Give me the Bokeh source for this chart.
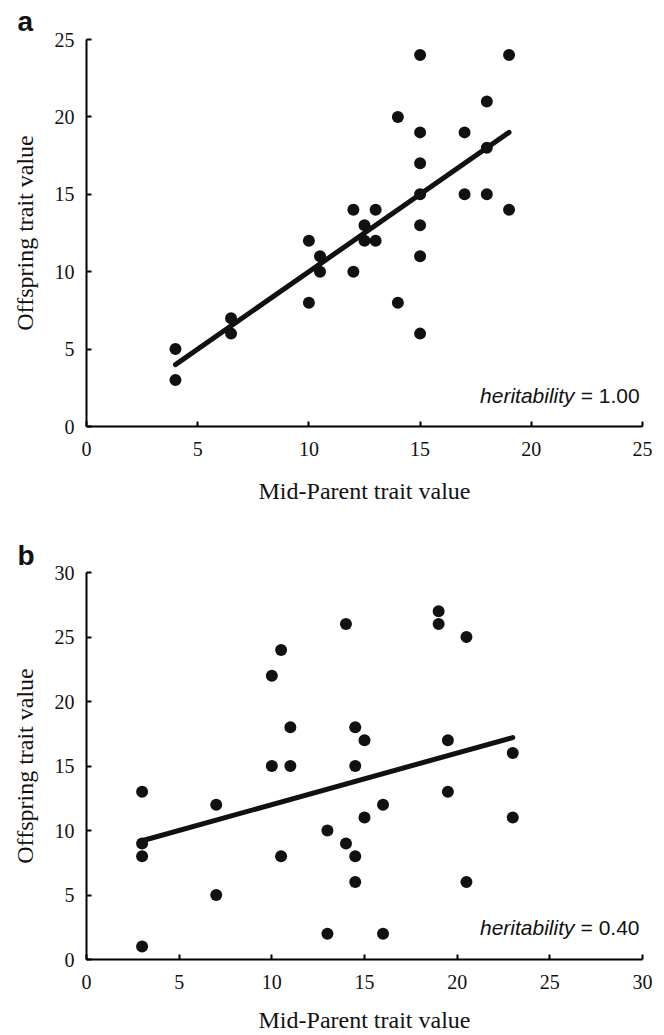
from bokeh.plotting import figure
from bokeh.layouts import column
from bokeh.models import Range1d, FixedTicker, Label
from bokeh.embed import file_html
from bokeh.resources import INLINE
import numpy as np

# Panel a data
a_mid = [4, 4, 6.5, 6.5, 10, 10, 10.5, 10.5, 12, 12, 12.5, 12.5, 13, 13, 14, 14,
         15, 15, 15, 15, 15, 15, 15, 17, 17, 18, 18, 18, 19, 19]
a_off = [5, 3, 7, 6, 12, 8, 11, 10, 14, 10, 13, 12, 14, 12, 20, 8,
         24, 19, 17, 15, 13, 11, 6, 19, 15, 21, 18, 15, 24, 14]
a_heritability = 1.00
a_ticks = [0, 5, 10, 15, 20, 25]

# Panel b data
b_mid = [3, 3, 3, 3, 7, 7, 10, 10, 10.5, 10.5, 11, 11, 13, 13, 14, 14,
         14.5, 14.5, 14.5, 14.5, 15, 15, 16, 16, 19, 19, 19.5, 19.5, 20.5, 20.5, 23, 23]
b_off = [13, 9, 8, 1, 12, 5, 22, 15, 24, 8, 18, 15, 10, 2, 26, 9,
         18, 15, 8, 6, 17, 11, 12, 2, 27, 26, 17, 13, 25, 6, 16, 11]
b_heritability = 0.40
b_ticks = [0, 5, 10, 15, 20, 25, 30]

SERIF = "Liberation Serif"
SANS = "Liberation Sans"


def make_panel(letter, xs, ys, h2, ticks, height, top, bottom, letter_standoff,
               her_xy, title_standoff):
    lim = ticks[-1]
    p = figure(width=664, height=height, x_range=Range1d(0, lim), y_range=Range1d(0, lim),
               output_backend="svg", toolbar_location=None,
               min_border_left=86, min_border_right=22,
               min_border_top=top, min_border_bottom=bottom)
    p.xgrid.visible = False
    p.ygrid.visible = False
    p.outline_line_color = None
    p.background_fill_color = "white"
    p.border_fill_color = "white"

    p.title.text = letter
    p.title.text_font = SANS
    p.title.text_font_style = "bold"
    p.title.text_font_size = "28px"
    p.title.text_color = "#111111"
    p.title.align = "left"
    p.title.offset = -69
    p.title.standoff = letter_standoff

    p.xaxis.ticker = FixedTicker(ticks=ticks)
    p.yaxis.ticker = FixedTicker(ticks=ticks)
    p.axis.axis_line_width = 2
    p.axis.axis_line_color = "black"
    p.axis.major_tick_in = 5
    p.axis.major_tick_out = 0
    p.axis.major_tick_line_width = 2
    p.axis.major_tick_line_color = "black"
    p.axis.minor_tick_line_color = None
    p.axis.major_label_text_font = SERIF
    p.axis.major_label_text_font_style = "normal"
    p.axis.major_label_text_font_size = "20px"
    p.axis.major_label_text_color = "#111111"
    p.axis.axis_label_text_font = SERIF
    p.axis.axis_label_text_font_size = "24px"
    p.axis.axis_label_text_font_style = "normal"
    p.axis.axis_label_text_color = "#111111"
    p.xaxis.axis_label = "Mid-Parent trait value"
    p.yaxis.axis_label = "Offspring trait value"
    p.xaxis.major_label_standoff = 15
    p.yaxis.major_label_standoff = 12
    p.xaxis.axis_label_standoff = title_standoff
    p.yaxis.axis_label_standoff = 14

    # regression line through the means with the given slope
    mx, my = float(np.mean(xs)), float(np.mean(ys))
    x0, x1 = min(xs), max(xs)
    p.line([x0, x1], [my + h2 * (x0 - mx), my + h2 * (x1 - mx)],
           line_color="#111111", line_width=5, line_cap="round")
    p.scatter(xs, ys, size=12, fill_color="#111111", line_color=None)

    p.add_layout(Label(x=her_xy[0], y=her_xy[1], text="= %.2f" % h2, text_font=SANS,
                       text_font_size="21px", text_baseline="alphabetic",
                       text_align="right", text_color="#111111"))
    p.add_layout(Label(x=her_xy[0], y=her_xy[1], x_offset=-65, text="heritability",
                       text_font=SANS, text_font_style="italic", text_font_size="21px",
                       text_baseline="alphabetic", text_align="right", text_color="#111111"))
    return p


pa = make_panel("a", a_mid, a_off, a_heritability, a_ticks, 520, 38, 94, 6,
                (24.87, 2.0), 19)
pb = make_panel("b", b_mid, b_off, b_heritability, b_ticks, 515, 52, 75, 3,
                (29.84, 2.47), 15)

layout = column(pa, pb, spacing=0)
open("out.html", "w").write(file_html(layout, INLINE))
